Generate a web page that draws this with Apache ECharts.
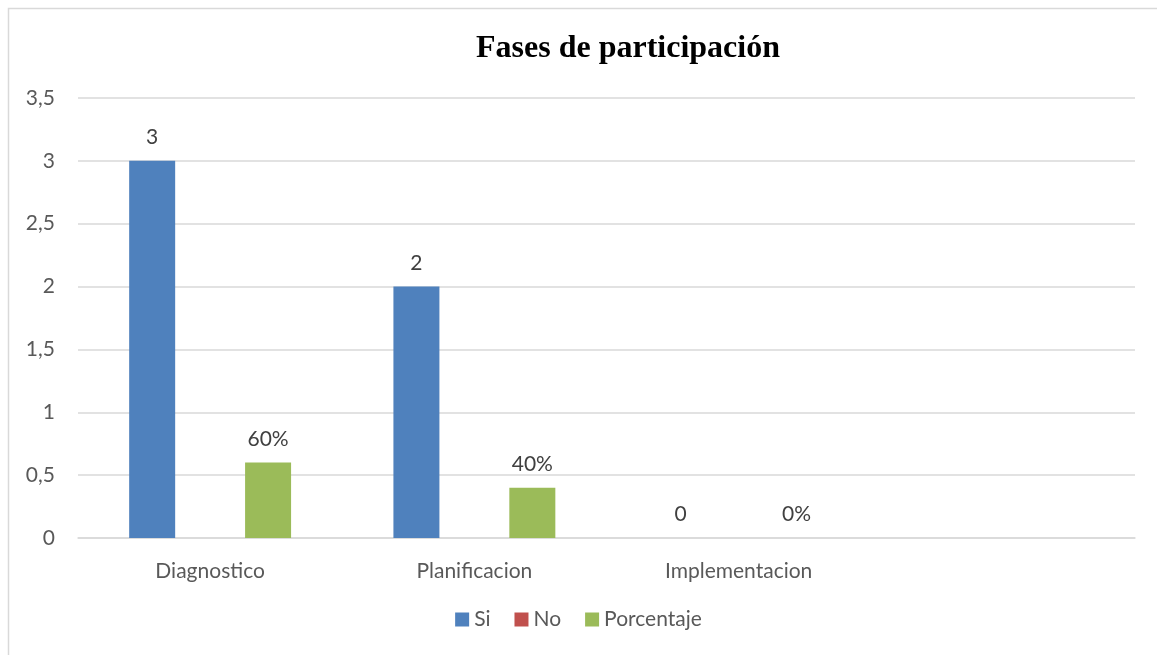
<!DOCTYPE html>
<html>
<head>
<meta charset="utf-8">
<script src="https://cdn.jsdelivr.net/npm/echarts@6/dist/echarts.min.js"></script>
<style>
  html, body { margin: 0; padding: 0; background: #fff; }
  #chart { width: 1157px; height: 655px; }
</style>
</head>
<body>
<div id="chart"></div>
<script>
// categories (last one is empty in the original sheet)
const categories = ['Diagnostico', 'Planificacion', 'Implementacion', ''];
const siValues = [3, 2, 0, null];
const noValues = [null, null, null, null];
const porcentajeValues = [0.6, 0.4, 0, null];

const labelFont = { fontFamily: 'Lato', fontSize: 21, color: '#404040' };

const chart = echarts.init(document.getElementById('chart'));

const option = {
  animation: false,
  backgroundColor: '#fff',
  title: {
    text: 'Fases de participación',
    left: 471,
    top: 28,
    textStyle: {
      fontFamily: 'Liberation Serif',
      fontWeight: 'bold',
      fontSize: 32,
      color: '#000'
    }
  },
  graphic: [
    {
      type: 'rect',
      shape: { x: 8.5, y: 8.5, width: 1300, height: 800 },
      style: { fill: 'none', stroke: '#d9d9d9', lineWidth: 1.5 },
      silent: true
    }
  ],
  legend: {
    bottom: 20,
    left: 'center',
    itemWidth: 14,
    itemHeight: 14,
    itemGap: 24,
    icon: 'rect',
    textStyle: { fontFamily: 'Lato', fontSize: 21, color: '#595959' },
    data: ['Si', 'No', 'Porcentaje']
  },
  grid: {
    left: 78,
    right: 22,
    top: 98,
    bottom: 117
  },
  xAxis: {
    type: 'category',
    data: categories,
    axisTick: { show: false },
    axisLine: { lineStyle: { color: '#d9d9d9', width: 1.5 } },
    axisLabel: { fontFamily: 'Lato', fontSize: 21, color: '#595959', margin: 23 }
  },
  yAxis: {
    type: 'value',
    min: 0,
    max: 3.5,
    interval: 0.5,
    axisLine: { show: false },
    axisTick: { show: false },
    splitLine: { lineStyle: { color: '#d9d9d9', width: 1.5 } },
    axisLabel: {
      fontFamily: 'Lato',
      fontSize: 21,
      color: '#595959',
      margin: 23,
      formatter: v => String(v).replace('.', ',')
    }
  },
  series: [
    {
      name: 'Si',
      type: 'bar',
      data: siValues,
      barWidth: 46,
      barGap: '26%',
      itemStyle: { color: '#4F81BD' },
      label: { show: true, position: 'top', distance: 13, ...labelFont }
    },
    {
      name: 'No',
      type: 'bar',
      data: noValues,
      barWidth: 46,
      barGap: '26%',
      itemStyle: { color: '#C0504D' },
      label: { show: true, position: 'top', distance: 13, ...labelFont }
    },
    {
      name: 'Porcentaje',
      type: 'bar',
      data: porcentajeValues,
      barWidth: 46,
      barGap: '26%',
      itemStyle: { color: '#9BBB59' },
      label: {
        show: true,
        position: 'top',
        distance: 13,
        ...labelFont,
        formatter: p => Math.round(p.value * 100) + '%'
      }
    }
  ]
};

chart.setOption(option);
</script>
</body>
</html>
